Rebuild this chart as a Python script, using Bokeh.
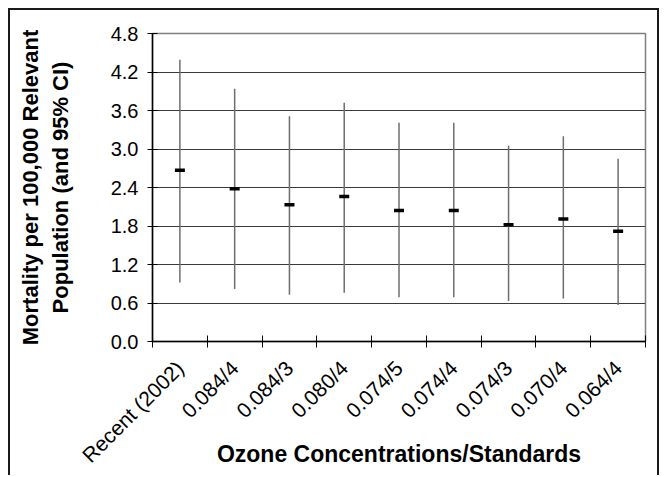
import math
from bokeh.plotting import figure
from bokeh.models import (Range1d, LinearAxis, FixedTicker,
                          ColumnDataSource, NumeralTickFormatter)
from bokeh.embed import file_html
from bokeh.resources import INLINE

categories = ["Recent (2002)", "0.084/4", "0.084/3", "0.080/4", "0.074/5",
              "0.074/4", "0.074/3", "0.070/4", "0.064/4"]
mean_values = [2.67, 2.38, 2.13, 2.26, 2.04, 2.04, 1.82, 1.91, 1.72]
ci_low = [0.92, 0.82, 0.73, 0.76, 0.69, 0.69, 0.63, 0.67, 0.57]
ci_high = [4.39, 3.94, 3.51, 3.72, 3.41, 3.41, 3.05, 3.20, 2.85]
y_ticks = [0.0, 0.6, 1.2, 1.8, 2.4, 3.0, 3.6, 4.2, 4.8]

FONT = "Liberation Sans"

# category slots: category i occupies [i, i+1]; marks sit at the slot centre
n = len(categories)
centres = [i + 0.5 for i in range(n)]
boundary_ticks = list(range(n + 1))

src = ColumnDataSource(dict(x=centres, mean=mean_values, low=ci_low, high=ci_high))

p = figure(width=651, height=467,
           x_range=Range1d(0, n), y_range=Range1d(0, 4.8),
           output_backend="svg", toolbar_location=None,
           min_border_left=142, min_border_right=16,
           min_border_top=23, min_border_bottom=136)

p.background_fill_color = "white"
p.border_fill_color = "white"
p.outline_line_color = "#808080"
p.outline_line_width = 1.5
p.styles = {"margin-left": "8px", "margin-top": "8px",
            "border-left": "2px solid #1a1a1a", "border-top": "2px solid #1a1a1a",
            "border-right": "2px solid #1a1a1a"}

# y axis
yax = p.yaxis[0]
yax.ticker = FixedTicker(ticks=y_ticks)
yax.formatter = NumeralTickFormatter(format="0.0")
yax.minor_tick_line_color = None
yax.major_tick_in = 5
yax.major_tick_out = 5
yax.major_tick_line_color = "black"
yax.axis_line_color = "black"
yax.axis_line_width = 1.5
yax.major_label_text_font = FONT
yax.major_label_text_font_size = "20px"
yax.major_label_text_color = "black"
yax.major_label_standoff = 9
yax.axis_label = "Mortality per 100,000 Relevant\nPopulation (and 95% CI)"
yax.axis_label_text_font = FONT
yax.axis_label_text_font_style = "bold"
yax.axis_label_text_font_size = "22px"
yax.axis_label_text_color = "black"
yax.axis_label_standoff = 35

p.ygrid[0].ticker = yax.ticker
p.ygrid.grid_line_color = "#3a3a3a"
p.ygrid.grid_line_width = 1
p.xgrid.visible = False

# boundary tick axis (ticks between categories, no labels)
bax = p.xaxis[0]
bax.ticker = FixedTicker(ticks=boundary_ticks)
bax.major_label_overrides = {t: "" for t in boundary_ticks}
bax.major_label_text_font_size = "1px"
bax.major_label_standoff = 0
bax.major_tick_in = 6
bax.major_tick_out = 6
bax.minor_tick_line_color = None
bax.axis_line_color = "black"
bax.axis_line_width = 1.5
bax.major_tick_line_color = "black"

# category label axis
cax = LinearAxis(ticker=FixedTicker(ticks=centres),
                 major_label_overrides={c: lab for c, lab in zip(centres, categories)})
cax.major_tick_line_color = None
cax.minor_tick_line_color = None
cax.axis_line_color = None
cax.major_label_orientation = math.pi / 4
cax.major_label_text_font = FONT
cax.major_label_text_font_size = "21px"
cax.major_label_text_color = "black"
cax.major_label_standoff = 11
cax.axis_label = "Ozone Concentrations/Standards"
cax.axis_label_text_font = FONT
cax.axis_label_text_font_style = "bold"
cax.axis_label_text_font_size = "23px"
cax.axis_label_text_color = "black"
cax.axis_label_standoff = -37
p.add_layout(cax, "below")

p.segment(x0="x", y0="low", x1="x", y1="high", source=src,
          line_color="#6e6e6e", line_width=1.5)
p.scatter(x="x", y="mean", source=src, marker="dash", size=10,
          line_color="black", line_width=3.5)

open("out.html", "w").write(file_html(p, INLINE))
